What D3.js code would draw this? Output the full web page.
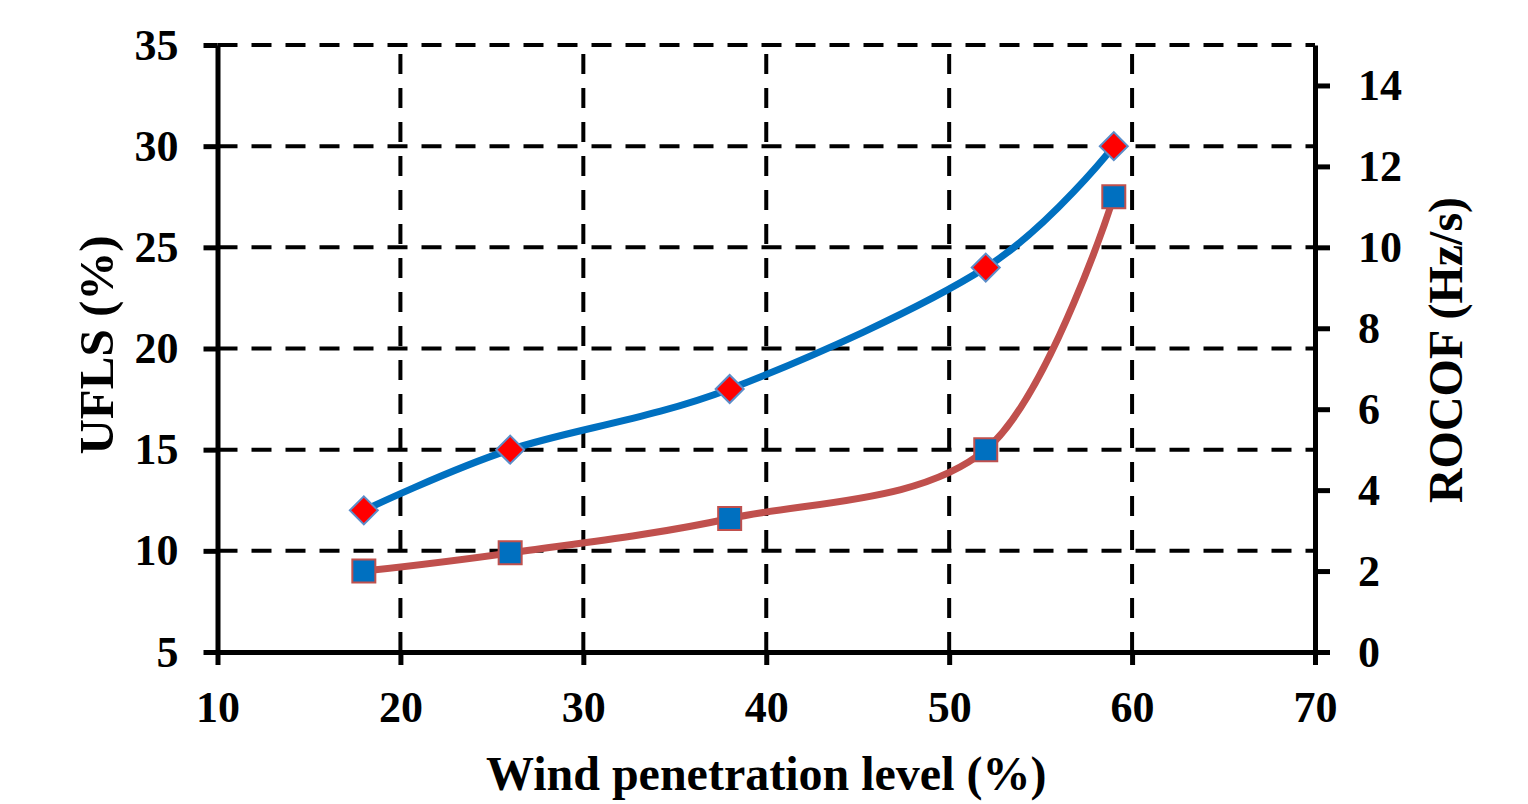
<!DOCTYPE html>
<html>
<head>
<meta charset="utf-8">
<script src="https://cdn.jsdelivr.net/npm/d3@7"></script>
<style>
  body { margin: 0; background: #fff; }
  svg text { font-family: "Liberation Serif", "Times New Roman", serif; font-weight: bold; fill: #000; }
</style>
</head>
<body>
<svg id="chart" width="1528" height="804"></svg>
<script>
// wind penetration level (%)
var wind = [18, 26, 38, 52, 59];
// UFLS (%) - left axis
var ufls = [12, 15, 18, 24, 30];
// ROCOF (Hz/s) - right axis
var rocof = [2.0, 2.45, 3.3, 5.0, 11.25];

var xTicks = [10, 20, 30, 40, 50, 60, 70];
var leftTicks = [5, 10, 15, 20, 25, 30, 35];
var rightTicks = [0, 2, 4, 6, 8, 10, 12, 14];

const svg = d3.select("#chart");

const plotL = 217.5, plotR = 1315, plotT = 45, plotB = 652;

const x = d3.scaleLinear().domain([10, 70]).range([plotL, plotR]);
const yL = d3.scaleLinear().domain([5, 35]).range([plotB, plotT]);
const yR = d3.scaleLinear().domain([0, 15]).range([plotB, plotT]);

// dashed grid
const grid = svg.append("g")
  .attr("stroke", "#000")
  .attr("stroke-width", 4)
  .attr("stroke-dasharray", "20,14");

grid.selectAll("line.h")
  .data(leftTicks.slice(1))
  .enter().append("line")
  .attr("class", "h")
  .attr("x1", plotL).attr("x2", plotR)
  .attr("y1", d => yL(d)).attr("y2", d => yL(d));

grid.selectAll("line.v")
  .data(xTicks.slice(1, -1))
  .enter().append("line")
  .attr("class", "v")
  .attr("x1", d => x(d)).attr("x2", d => x(d))
  .attr("y1", plotB).attr("y2", plotT);

// axes
const xAxis = d3.axisBottom(x).tickValues(xTicks).tickSize(13).tickSizeOuter(0).tickPadding(26);
const leftAxis = d3.axisLeft(yL).tickValues(leftTicks).tickSize(14).tickSizeOuter(0).tickPadding(25);
const rightAxis = d3.axisRight(yR).tickValues(rightTicks).tickSize(15).tickSizeOuter(0).tickPadding(28);

function styleAxis(g) {
  g.select(".domain").attr("stroke", "#000").attr("stroke-width", 5);
  g.selectAll(".tick line").attr("stroke", "#000").attr("stroke-width", 5);
  g.selectAll(".tick text").style("font-size", "44px");
}

svg.append("g")
  .attr("transform", "translate(0," + plotB + ")")
  .call(xAxis)
  .call(styleAxis);

svg.append("g")
  .attr("transform", "translate(" + plotL + ",0)")
  .call(leftAxis)
  .call(styleAxis);

svg.append("g")
  .attr("transform", "translate(" + plotR + ",0)")
  .call(rightAxis)
  .call(styleAxis);

// lines
const curve = d3.curveCardinal.tension(0);

const uflsLine = d3.line()
  .x((d, i) => x(wind[i]))
  .y(d => yL(d))
  .curve(curve);

const rocofLine = d3.line()
  .x((d, i) => x(wind[i]))
  .y(d => yR(d))
  .curve(curve);

svg.append("path")
  .datum(ufls)
  .attr("d", uflsLine)
  .attr("fill", "none")
  .attr("stroke", "#0070C0")
  .attr("stroke-width", 7);

svg.append("path")
  .datum(rocof)
  .attr("d", rocofLine)
  .attr("fill", "none")
  .attr("stroke", "#C0504D")
  .attr("stroke-width", 7);

// markers
svg.selectAll("path.diamond")
  .data(ufls)
  .enter().append("path")
  .attr("class", "diamond")
  .attr("d", d3.symbol(d3.symbolSquare, 392))
  .attr("transform", (d, i) => "translate(" + x(wind[i]) + "," + yL(d) + ") rotate(45)")
  .attr("fill", "#FF0000")
  .attr("stroke", "#5B8DC9")
  .attr("stroke-width", 2);

svg.selectAll("path.square")
  .data(rocof)
  .enter().append("path")
  .attr("class", "square")
  .attr("d", d3.symbol(d3.symbolSquare, 529))
  .attr("transform", (d, i) => "translate(" + x(wind[i]) + "," + yR(d) + ")")
  .attr("fill", "#0070C0")
  .attr("stroke", "#C0504D")
  .attr("stroke-width", 2);

// axis titles
svg.append("text")
  .attr("x", (plotL + plotR) / 2)
  .attr("y", 790)
  .attr("text-anchor", "middle")
  .style("font-size", "48px")
  .text("Wind penetration level (%)");

svg.append("text")
  .attr("transform", "translate(113,345) rotate(-90)")
  .attr("text-anchor", "middle")
  .style("font-size", "49px")
  .text("UFLS (%)");

svg.append("text")
  .attr("transform", "translate(1462,350) rotate(-90)")
  .attr("text-anchor", "middle")
  .style("font-size", "48px")
  .text("ROCOF (Hz/s)");
</script>
</body>
</html>
